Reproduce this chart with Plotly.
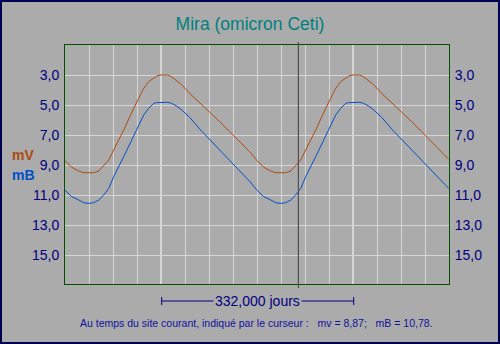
import plotly.graph_objects as go

# ---- data (days, magnitudes) ----
days = [0, 11.6, 23.7, 32.3, 41.0, 49.6, 58.3, 66.9, 75.6, 84.2, 101.5, 118.8, 136.1, 144.7,
        153.4, 158.6, 164.7, 177.6, 184.5, 193.2, 201.8, 215.6, 232.9, 250.2, 267.5, 284.8,
        302.1, 319.4,
        332.0, 343.6, 355.7, 364.3, 373.0, 381.6, 390.3, 398.9, 407.6, 416.2, 433.5, 450.8,
        468.1, 476.7, 485.4, 490.6, 496.7, 509.6, 516.5, 525.2, 533.8, 547.6, 564.9, 582.2,
        599.5, 616.8, 634.1, 651.4, 663.5]
mV = [8.70, 9.15, 9.40, 9.51, 9.51, 9.51, 9.40, 9.07, 8.67, 8.00, 6.67, 5.22, 3.89, 3.44,
      3.22, 3.07, 3.00, 3.00, 3.13, 3.40, 3.65, 4.22, 4.84, 5.49, 6.11, 6.78, 7.44, 8.11,
      8.70, 9.15, 9.40, 9.51, 9.51, 9.51, 9.40, 9.07, 8.67, 8.00, 6.67, 5.22, 3.89, 3.44,
      3.22, 3.07, 3.00, 3.00, 3.13, 3.40, 3.65, 4.22, 4.84, 5.49, 6.11, 6.78, 7.44, 8.11,
      8.62]
mB = [10.68, 11.11, 11.33, 11.51, 11.56, 11.51, 11.33, 11.00, 10.56, 9.78, 8.44, 7.11, 5.67, 5.22,
      4.89, 4.84, 4.82, 4.82, 4.89, 5.07, 5.33, 5.82, 6.60, 7.29, 8.00, 8.69, 9.38, 10.09,
      10.68, 11.11, 11.33, 11.51, 11.56, 11.51, 11.33, 11.00, 10.56, 9.78, 8.44, 7.11, 5.67, 5.22,
      4.89, 4.84, 4.82, 4.82, 4.89, 5.07, 5.33, 5.82, 6.60, 7.29, 8.00, 8.69, 9.38, 10.09,
      10.56]

period_days = 332.0
grid_step = 41.5
x_ticks = [grid_step * i for i in range(17)]
bright_ticks = [166.0, 498.0]
y_ticks = [3, 5, 7, 9, 11, 13, 15]
x_range = [0, 664]
y_range = [16.93, 1.0]
cursor_day = 403.6
title_text = "Mira (omicron Ceti)"
scale_text = "332,000 jours"
footer_text = "Au temps du site courant, indiqué par le curseur :\u00a0\u00a0 mv = 8,87;\u00a0\u00a0 mB = 10,78."

# ---- geometry ----
W, H = 500, 344
ML, MR, MT, MB = 65, 51, 45, 60
PW, PH = W - ML - MR, H - MT - MB


def px(x):
    return (x - ML) / PW


def py(y):
    return (H - MB - y) / PH


BG = "#ABABAB"
NAVY = "#000080"
ORANGE = "#B04A10"
BLUE = "#0050C8"
FRAME = "#005000"
GRID = "#D6D6D6"
TICKFONT = dict(family="Liberation Sans, Arial", size=14, color=NAVY)

fig = go.Figure()
fig.add_trace(go.Scatter(x=days, y=mV, mode="lines", line=dict(color=ORANGE, width=1),
                         name="mV", showlegend=False, yaxis="y"))
fig.add_trace(go.Scatter(x=days, y=mB, mode="lines", line=dict(color=BLUE, width=1),
                         name="mB", showlegend=False, yaxis="y2"))

shapes = []
for bx in bright_ticks:
    shapes.append(dict(type="line", xref="x", yref="paper", x0=bx, x1=bx, y0=0, y1=1,
                       line=dict(color="#FFFFFF", width=1), layer="below"))
# cursor
shapes.append(dict(type="line", xref="x", yref="paper", x0=cursor_day, x1=cursor_day,
                   y0=py(42), y1=py(288), line=dict(color="#505050", width=1.2)))
# scale bar
y_bar = py(301)
shapes += [
    dict(type="line", xref="paper", yref="paper", x0=px(161.7), x1=px(353.7), y0=y_bar, y1=y_bar,
         line=dict(color=NAVY, width=1)),
    dict(type="line", xref="paper", yref="paper", x0=px(161.7), x1=px(161.7), y0=py(297), y1=py(305),
         line=dict(color=NAVY, width=1)),
    dict(type="line", xref="paper", yref="paper", x0=px(353.7), x1=px(353.7), y0=py(297), y1=py(305),
         line=dict(color=NAVY, width=1)),
]
# outer border
shapes.append(dict(type="rect", xref="paper", yref="paper", x0=px(1), x1=px(W - 1),
                   y0=py(1), y1=py(H - 1), line=dict(color="#000050", width=2)))

annotations = [
    dict(text="mV", xref="paper", yref="paper", x=px(10), y=py(155), xanchor="left", yanchor="middle",
         showarrow=False, font=dict(family="Liberation Sans, Arial", size=14, color=ORANGE, weight="bold")),
    dict(text="mB", xref="paper", yref="paper", x=px(10), y=py(175), xanchor="left", yanchor="middle",
         showarrow=False, font=dict(family="Liberation Sans, Arial", size=14, color=BLUE, weight="bold")),
    dict(text=scale_text, xref="paper", yref="paper", x=px(257), y=y_bar, xanchor="center",
         yanchor="middle", showarrow=False, font=TICKFONT, bgcolor=BG, borderpad=1),
    dict(text=footer_text, xref="paper", yref="paper", x=px(256.5), y=py(323), xanchor="center",
         yanchor="middle", showarrow=False,
         font=dict(family="Liberation Sans, Arial", size=10.5, color="#1010A0")),
]

axis_common = dict(showline=True, linecolor=FRAME, linewidth=1, mirror=True, zeroline=False)
fig.update_layout(
    width=W, height=H,
    margin=dict(l=ML, r=MR, t=MT, b=MB, pad=0),
    paper_bgcolor=BG, plot_bgcolor=BG,
    separators=", ",
    title=dict(text=title_text, x=0.5, xref="container", xanchor="center",
               y=1 - 24 / H, yref="container", yanchor="middle",
               font=dict(family="Liberation Sans, Arial", size=17.5, color="#008080")),
    xaxis=dict(range=x_range, tickvals=x_ticks, showticklabels=False, showgrid=True,
               gridcolor=GRID, gridwidth=1, ticks="", **axis_common),
    yaxis=dict(range=y_range, tickvals=y_ticks, tickformat=".1f", showgrid=True, gridcolor=GRID,
               gridwidth=1, ticks="outside", ticklen=2, tickcolor=BG, tickfont=TICKFONT,
               side="left", **axis_common),
    yaxis2=dict(range=y_range, tickvals=y_ticks, tickformat=".1f", showgrid=False,
                ticks="outside", ticklen=2, tickcolor=BG, tickfont=TICKFONT,
                side="right", overlaying="y", showline=False, zeroline=False),
    shapes=shapes,
    annotations=annotations,
    showlegend=False,
)

fig.write_html("out.html")
